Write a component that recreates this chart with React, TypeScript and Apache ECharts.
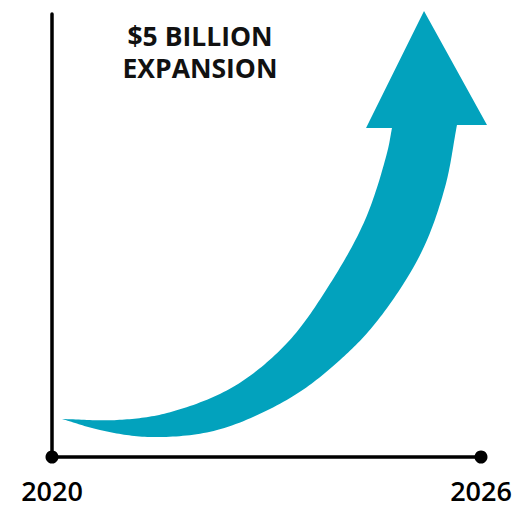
import React, { useEffect, useRef } from "react";
import * as echarts from "echarts";

// Growth band: inner (upper) and outer (lower) bound of the arrow shaft, [year, value]
const bandUpper: [number, number][] = [
  [2020.14, 8.58], [2020.909, 8.35], [2021.608, 9.93], [2022.531, 15.8], [2023.287, 25.73],
  [2023.86, 38.37], [2024.378, 53.5], [2024.685, 68.62], [2024.755, 74.27],
];
const bandLower: [number, number][] = [
  [2020.14, 8.58], [2020.671, 6.09], [2021.371, 4.51], [2022.308, 6.09], [2023.329, 13.32],
  [2024.028, 21.9], [2024.559, 30.93], [2025.161, 46.05], [2025.497, 60.95], [2025.664, 74.94],
];
// Arrow head: left corner, tip, right corner
const arrowHead: [number, number][] = [
  [2024.392, 74.27], [2025.203, 100.68], [2026.084, 74.94],
];
const yearMin = 2020;
const yearMax = 2026;
const shownYears = [2020, 2026];
const titleLines = ["$5 BILLION", "EXPANSION"];

// centripetal Catmull-Rom through pixel points
function smooth(pts: number[][], seg = 20): number[][] {
  const n = pts.length;
  const ext = [
    [2 * pts[0][0] - pts[1][0], 2 * pts[0][1] - pts[1][1]],
    ...pts,
    [2 * pts[n - 1][0] - pts[n - 2][0], 2 * pts[n - 1][1] - pts[n - 2][1]],
  ];
  const knot = (a: number[], b: number[]) =>
    Math.max(Math.pow(Math.hypot(b[0] - a[0], b[1] - a[1]), 0.5), 1e-6);
  const lerp = (a: number[], b: number[], ta: number, tb: number, t: number) => {
    const u = (t - ta) / (tb - ta);
    return [a[0] + (b[0] - a[0]) * u, a[1] + (b[1] - a[1]) * u];
  };
  const out: number[][] = [];
  for (let i = 1; i < ext.length - 2; i++) {
    const p0 = ext[i - 1], p1 = ext[i], p2 = ext[i + 1], p3 = ext[i + 2];
    const t0 = 0;
    const t1 = t0 + knot(p0, p1);
    const t2 = t1 + knot(p1, p2);
    const t3 = t2 + knot(p2, p3);
    for (let s = 0; s < seg; s++) {
      const t = t1 + ((t2 - t1) * s) / seg;
      const A1 = lerp(p0, p1, t0, t1, t);
      const A2 = lerp(p1, p2, t1, t2, t);
      const A3 = lerp(p2, p3, t2, t3, t);
      const B1 = lerp(A1, A2, t0, t2, t);
      const B2 = lerp(A2, A3, t1, t3, t);
      out.push(lerp(B1, B2, t1, t2, t));
    }
  }
  out.push(pts[n - 1]);
  return out;
}

export default function App() {
  const ref = useRef<HTMLDivElement>(null);
  useEffect(() => {
    if (!ref.current) return;
    const chart = echarts.init(ref.current, null, { renderer: "svg" });
    const teal = "#02A2BD";
    const titleStyle = {
      textAlign: "center",
      textVerticalAlign: "middle",
      fontFamily: "Open Sans",
      fontWeight: 700,
      fontSize: 26.5,
      fill: "#111",
    };
    chart.setOption({
      animation: false,
      backgroundColor: "#ffffff",
      grid: { left: 52, right: 45, top: 14, bottom: 48 },
      xAxis: {
        type: "value",
        min: yearMin,
        max: yearMax,
        interval: 1,
        axisLine: {
          show: true,
          symbol: ["circle", "circle"],
          symbolSize: [13, 13],
          lineStyle: { color: "#000", width: 3.5 },
        },
        axisTick: { show: false },
        splitLine: { show: false },
        axisLabel: {
          show: true,
          margin: 22,
          color: "#000",
          fontFamily: "Open Sans",
          fontWeight: 600,
          fontSize: 27,
          lineHeight: 22,
          formatter: (v: number) => (shownYears.indexOf(v) >= 0 ? String(v) : ""),
        },
      },
      yAxis: {
        type: "value",
        min: 0,
        max: 100,
        axisLine: { show: true, lineStyle: { color: "#000", width: 3.5 } },
        axisTick: { show: false },
        axisLabel: { show: false },
        splitLine: { show: false },
      },
      graphic: [
        { type: "text", x: 200, y: 35.5, style: { ...titleStyle, text: titleLines[0] } },
        { type: "text", x: 200, y: 68, style: { ...titleStyle, text: titleLines[1] } },
      ],
      series: [
        {
          type: "custom",
          clip: false,
          data: [[yearMin, 0]],
          renderItem: (params: any, api: any) => {
            const up = smooth(bandUpper.map((p) => api.coord(p)));
            const lo = smooth(bandLower.map((p) => api.coord(p)));
            const head = arrowHead.map((p) => api.coord(p));
            const points = [...up, head[0], head[1], head[2], ...lo.slice().reverse()];
            return {
              type: "polygon",
              shape: { points },
              style: { fill: teal, stroke: "none" },
            };
          },
        },
      ],
    });
    return () => chart.dispose();
  }, []);
  return (
    <div
      ref={ref}
      style={{ position: "absolute", left: 0, top: 0, width: 526, height: 505 }}
    />
  );
}
